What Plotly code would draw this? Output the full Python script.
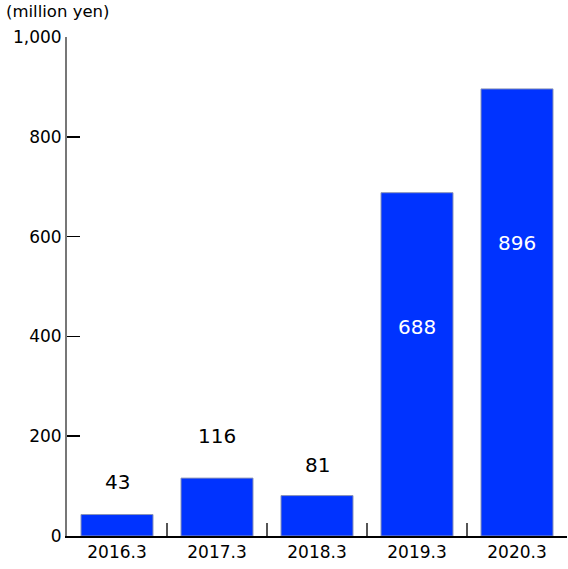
import plotly.graph_objects as go

# fiscal years and values (million yen)
years = ["2016.3", "2017.3", "2018.3", "2019.3", "2020.3"]
values = [43, 116, 81, 688, 896]

# where each value label sits (data units) and its colour
label_y = [108, 200, 142, 418, 587]
label_colors = ["black", "black", "black", "white", "white"]

FONT = "DejaVu Sans"

fig = go.Figure()
fig.add_trace(
    go.Bar(
        x=years,
        y=values,
        marker=dict(color="#0033ff", line=dict(color="#8a94b8", width=1)),
        hoverinfo="skip",
    )
)

# category axis: place labels by category index
for i, (v, ly, col) in enumerate(zip(values, label_y, label_colors)):
    fig.add_annotation(
        x=i, y=ly, text=str(v), showarrow=False,
        font=dict(family=FONT, size=20, color=col),
    )

fig.add_annotation(
    xref="paper", yref="paper", x=-0.127, y=1.052, xanchor="left", yanchor="middle",
    text="(million yen)", showarrow=False,
    font=dict(family=FONT, size=16.5, color="black"),
)

fig.update_layout(
    width=568,
    height=569,
    margin=dict(l=67, r=1, t=37, b=33),
    plot_bgcolor="white",
    paper_bgcolor="white",
    bargap=0.28,
    showlegend=False,
    font=dict(family=FONT, size=15, color="black"),
    xaxis=dict(
        type="category", automargin=False, tickangle=0,
        showline=True, linecolor="black", linewidth=2,
        ticks="inside", tickson="boundaries", ticklen=13, tickcolor="#555555", tickwidth=1.5,
        showgrid=False, tickfont=dict(family=FONT, size=17),
    ),
    yaxis=dict(
        range=[0, 1000], automargin=False,
        tickvals=[0, 200, 400, 600, 800, 1000],
        ticktext=["0", "200", "400", "600", "800", "1,000"],
        showline=True, linecolor="#777777", linewidth=2,
        ticks="inside", ticklen=13, tickcolor="black", tickwidth=1.5,
        showgrid=False, zeroline=False, tickfont=dict(family=FONT, size=17),
    ),
)

# drop the browser's default body margin so the figure sits at the corner
fig.write_html(
    "out.html",
    config={"displayModeBar": False, "staticPlot": True},
    post_script="document.body.style.margin = '0';",
)
